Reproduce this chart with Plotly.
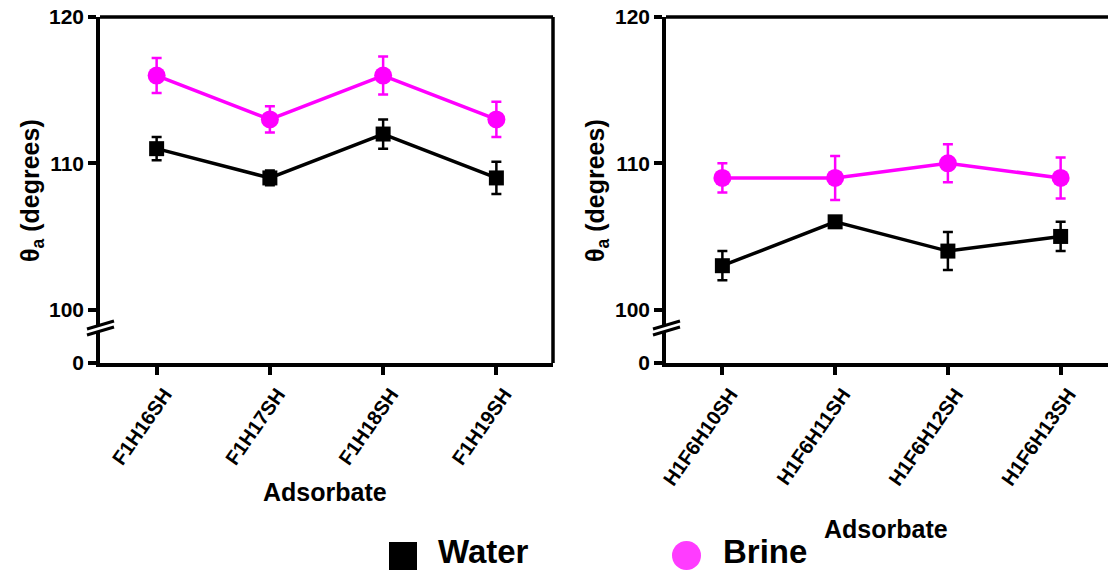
import plotly.graph_objects as go

# ---- data -------------------------------------------------------------
left_labels = ["F1H16SH", "F1H17SH", "F1H18SH", "F1H19SH"]
left_water = [111, 109, 112, 109]
left_water_err = [0.8, 0.5, 1.0, 1.1]
left_brine = [116, 113, 116, 113]
left_brine_err = [1.2, 0.9, 1.3, 1.2]

right_labels = ["H1F6H10SH", "H1F6H11SH", "H1F6H12SH", "H1F6H13SH"]
right_water = [103, 106, 104, 105]
right_water_err = [1.0, 0.3, 1.3, 1.0]
right_brine = [109, 109, 110, 109]
right_brine_err = [1.0, 1.5, 1.3, 1.4]

y_ticks_upper = [100, 110, 120]
y_ticks_lower = [0]

# ---- styling -----------------------------------------------------------
W, H = 1108, 571
FONT = "Arial, Liberation Sans, sans-serif"
BLACK = "#000000"
MAGENTA = "#FF00FF"
AXW = 3.5


def py(pix):
    """pixel row -> paper y"""
    return 1 - pix / H


def px(pix):
    """pixel column -> paper x"""
    return pix / W


upper_dom = [py(325), py(17)]
lower_dom = [py(363), py(331)]
upper_range = [120 - (325 - 17) / 14.63, 120]
left_dom = [px(100), px(553)]
right_dom = [px(666), 1.0]

fig = go.Figure()


def add_series(xa, ya, labels, vals, errs, color, symbol, size):
    fig.add_trace(go.Scatter(
        x=labels, y=vals, xaxis=xa, yaxis=ya, mode="lines+markers",
        line=dict(color=color, width=3.5),
        marker=dict(color=color, symbol=symbol, size=size),
        error_y=dict(type="data", array=errs, visible=True,
                     color=color, thickness=2.5, width=5),
        showlegend=False, cliponaxis=False,
    ))


add_series("x", "y", left_labels, left_water, left_water_err, BLACK, "square", 15)
add_series("x", "y", left_labels, left_brine, left_brine_err, MAGENTA, "circle", 18)
add_series("x2", "y3", right_labels, right_water, right_water_err, BLACK, "square", 15)
add_series("x2", "y3", right_labels, right_brine, right_brine_err, MAGENTA, "circle", 18)

# empty traces so the lower (broken-off) part of each axis forms a subplot
for xa, ya, labels in (("x", "y2", left_labels), ("x2", "y4", right_labels)):
    fig.add_trace(go.Scatter(x=labels, y=[None] * len(labels), xaxis=xa, yaxis=ya,
                             mode="lines", showlegend=False, hoverinfo="skip"))

xcommon = dict(showline=True, linecolor=BLACK, linewidth=AXW, ticks="outside",
               ticklen=8, tickwidth=AXW, tickcolor=BLACK, tickangle=-55,
               ticklabelshift=8, automargin=False,
               tickfont=dict(family=FONT, size=20, color=BLACK, weight="bold"),
               showgrid=False, zeroline=False, type="category")
ycommon = dict(showline=True, linecolor=BLACK, linewidth=AXW, ticks="outside",
               ticklen=8, tickwidth=AXW, tickcolor=BLACK, automargin=False,
               tickfont=dict(family=FONT, size=21, color=BLACK, weight="bold"),
               showgrid=False, zeroline=False)

fig.update_layout(
    width=W, height=H,
    margin=dict(l=0, r=0, t=0, b=0, pad=0, autoexpand=False),
    paper_bgcolor="white", plot_bgcolor="white", showlegend=False,
    xaxis=dict(domain=left_dom, anchor="y2", range=[-0.5, 3.5], **xcommon),
    yaxis=dict(domain=upper_dom, anchor="x", range=upper_range,
               tickvals=y_ticks_upper, **ycommon),
    yaxis2=dict(domain=lower_dom, anchor="x", range=[0, 2],
                tickvals=y_ticks_lower, **ycommon),
    xaxis2=dict(domain=right_dom, anchor="y4", range=[-0.5, 3.42], **xcommon),
    yaxis3=dict(domain=upper_dom, anchor="x2", range=upper_range,
                tickvals=y_ticks_upper, **ycommon),
    yaxis4=dict(domain=lower_dom, anchor="x2", range=[0, 2],
                tickvals=y_ticks_lower, **ycommon),
)

line_style = dict(color=BLACK, width=AXW)
shapes = []
# top spines
shapes.append(dict(type="line", xref="x domain", yref="y domain",
                   x0=0, x1=1, y0=1, y1=1, line=line_style))
shapes.append(dict(type="line", xref="x2 domain", yref="y3 domain",
                   x0=0, x1=1, y0=1, y1=1, line=line_style))
# right spine of the left panel
shapes.append(dict(type="line", xref="x domain", yref="paper",
                   x0=1, x1=1, y0=lower_dom[0], y1=upper_dom[1], line=line_style))
# axis-break marks
brk = (upper_dom[0] + lower_dom[1]) / 2
for xr in ["x domain", "x2 domain"]:
    for dy in (3, -3):
        shapes.append(dict(type="line", xref=xr, yref="paper",
                           xsizemode="pixel", ysizemode="pixel",
                           xanchor=0, yanchor=brk,
                           x0=-13, x1=14, y0=dy - 4, y1=dy + 4,
                           line=dict(color=BLACK, width=3)))
# legend keys
shapes.append(dict(type="rect", xref="paper", yref="paper",
                   x0=px(389), x1=px(417), y0=py(570), y1=py(542),
                   fillcolor=BLACK, line=dict(width=0)))
shapes.append(dict(type="circle", xref="paper", yref="paper",
                   x0=px(672), x1=px(701), y0=py(570), y1=py(541),
                   fillcolor="#FF3CFF", line=dict(width=0)))
fig.update_layout(shapes=shapes)

title_font = dict(family=FONT, size=25, color=BLACK, weight="bold")
ann = []
for xc in (32, 597):
    ann.append(dict(text="θ<sub>a</sub> (degrees)", x=px(xc), y=py(191),
                    xref="paper", yref="paper", showarrow=False,
                    textangle=-90, font=title_font,
                    xanchor="center", yanchor="middle"))
ann.append(dict(text="Adsorbate", x=px(325), y=py(492), xref="paper",
                yref="paper", showarrow=False, font=title_font,
                xanchor="center", yanchor="middle"))
ann.append(dict(text="Adsorbate", x=px(886), y=py(529), xref="paper",
                yref="paper", showarrow=False, font=title_font,
                xanchor="center", yanchor="middle"))
legend_font = dict(family=FONT, size=33, color=BLACK, weight="bold")
ann.append(dict(text="Water", x=px(437), y=0, xref="paper", yref="paper",
                showarrow=False, font=legend_font, borderpad=0,
                xanchor="left", yanchor="bottom"))
ann.append(dict(text="Brine", x=px(722), y=0, xref="paper", yref="paper",
                showarrow=False, font=legend_font, borderpad=0,
                xanchor="left", yanchor="bottom"))
fig.update_layout(annotations=ann)

fig.write_html("out.html")
